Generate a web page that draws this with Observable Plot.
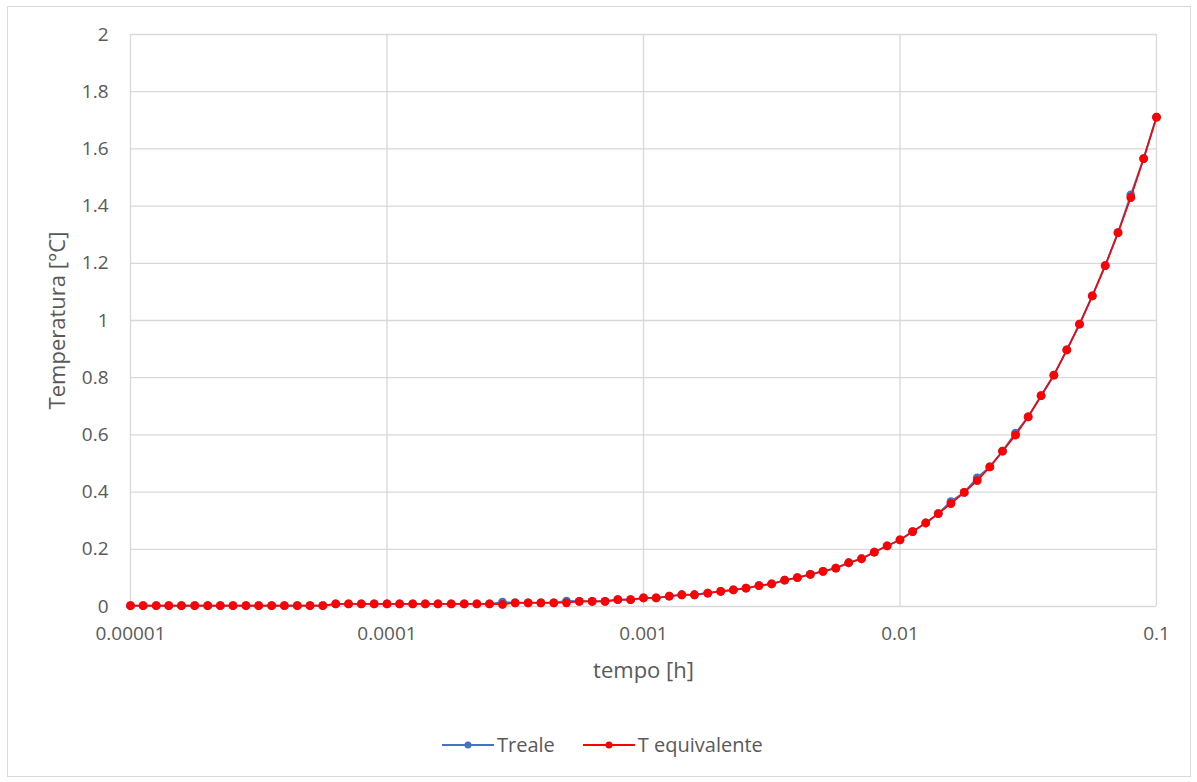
<!DOCTYPE html>
<html>
<head>
<meta charset="utf-8">
<script src="https://cdn.jsdelivr.net/npm/d3@7"></script>
<script src="https://cdn.jsdelivr.net/npm/@observablehq/plot@0.6"></script>
<style>
  body { margin: 0; background: #fff; font-family: "Open Sans", sans-serif; }
  #frame { position: absolute; left: 7px; top: 6px; width: 1184px; height: 771px; border: 1px solid #d9d9d9; box-sizing: border-box; }
  #chart { position: absolute; left: 0; top: 0; }
  #legend { position: absolute; left: 442px; top: 731px; display: flex; align-items: center; font-size: 20px; color: #595959; white-space: nowrap; }
  #legend .item { display: flex; align-items: center; }
  #legend svg { display: block; margin-right: 3px; }
</style>
</head>
<body>
<div id="frame"></div>
<div id="chart"></div>
<div id="legend"></div>
<script>
// time steps [h], 20 per decade
const tempo = [
  1.00e-5, 1.12e-5, 1.26e-5, 1.41e-5, 1.58e-5, 1.78e-5, 2.00e-5, 2.24e-5, 2.51e-5, 2.82e-5,
  3.16e-5, 3.55e-5, 3.98e-5, 4.47e-5, 5.01e-5, 5.62e-5, 6.31e-5, 7.08e-5, 7.94e-5, 8.91e-5,
  1.00e-4, 1.12e-4, 1.26e-4, 1.41e-4, 1.58e-4, 1.78e-4, 2.00e-4, 2.24e-4, 2.51e-4, 2.82e-4,
  3.16e-4, 3.55e-4, 3.98e-4, 4.47e-4, 5.01e-4, 5.62e-4, 6.31e-4, 7.08e-4, 7.94e-4, 8.91e-4,
  1.00e-3, 1.12e-3, 1.26e-3, 1.41e-3, 1.58e-3, 1.78e-3, 2.00e-3, 2.24e-3, 2.51e-3, 2.82e-3,
  3.16e-3, 3.55e-3, 3.98e-3, 4.47e-3, 5.01e-3, 5.62e-3, 6.31e-3, 7.08e-3, 7.94e-3, 8.91e-3,
  1.00e-2, 1.12e-2, 1.26e-2, 1.41e-2, 1.58e-2, 1.78e-2, 2.00e-2, 2.24e-2, 2.51e-2, 2.82e-2,
  3.16e-2, 3.55e-2, 3.98e-2, 4.47e-2, 5.01e-2, 5.62e-2, 6.31e-2, 7.08e-2, 7.94e-2, 8.91e-2,
  1.00e-1
];

// equivalent temperature [°C]
const tEquivalente = [
  0.003, 0.003, 0.003, 0.003, 0.003, 0.003, 0.003, 0.003, 0.003, 0.003,
  0.003, 0.003, 0.003, 0.003, 0.003, 0.003, 0.009, 0.009, 0.009, 0.009,
  0.009, 0.009, 0.009, 0.009, 0.009, 0.009, 0.009, 0.009, 0.009, 0.007,
  0.013, 0.013, 0.013, 0.013, 0.013, 0.018, 0.018, 0.018, 0.024, 0.024,
  0.030, 0.030, 0.036, 0.041, 0.041, 0.047, 0.053, 0.058, 0.064, 0.073,
  0.079, 0.092, 0.101, 0.112, 0.123, 0.134, 0.153, 0.167, 0.190, 0.212,
  0.233, 0.262, 0.292, 0.325, 0.360, 0.399, 0.440, 0.488, 0.543, 0.599,
  0.663, 0.737, 0.809, 0.897, 0.987, 1.086, 1.192, 1.307, 1.430, 1.566,
  1.711
];

// measured temperature [°C]
const treale = [
  0.003, 0.003, 0.003, 0.003, 0.003, 0.003, 0.003, 0.003, 0.003, 0.003,
  0.003, 0.003, 0.003, 0.003, 0.003, 0.003, 0.009, 0.009, 0.009, 0.009,
  0.009, 0.009, 0.009, 0.009, 0.009, 0.009, 0.009, 0.009, 0.009, 0.015,
  0.013, 0.013, 0.013, 0.013, 0.019, 0.018, 0.018, 0.018, 0.024, 0.024,
  0.030, 0.030, 0.036, 0.041, 0.041, 0.047, 0.053, 0.058, 0.064, 0.073,
  0.079, 0.092, 0.101, 0.112, 0.123, 0.134, 0.153, 0.167, 0.190, 0.212,
  0.233, 0.262, 0.292, 0.325, 0.367, 0.399, 0.450, 0.488, 0.543, 0.606,
  0.663, 0.737, 0.809, 0.897, 0.987, 1.086, 1.192, 1.307, 1.439, 1.566,
  1.711
];

const xTicks = [0.00001, 0.0001, 0.001, 0.01, 0.1];
const yTicks = [0, 0.2, 0.4, 0.6, 0.8, 1, 1.2, 1.4, 1.6, 1.8, 2];
const seriesNames = ["Treale", "T equivalente"];
const seriesColors = ["#4472C4", "#FF0000"];

const rows = tempo.map((t, i) => ({ tempo: t, treale: treale[i], tEq: tEquivalente[i] }));

const gridColor = "#d9d9d9";
const textColor = "#595959";

const chart = Plot.plot({
  width: 1197,
  height: 700,
  marginLeft: 130,
  marginRight: 41,
  marginTop: 34,
  marginBottom: 94,
  x: { type: "log", domain: [1e-5, 0.1] },
  y: { domain: [0, 2] },
  style: { fontFamily: "Open Sans, sans-serif", fontSize: "19px", color: textColor, background: "transparent" },
  marks: [
    Plot.gridX(xTicks, { stroke: gridColor, strokeOpacity: 1, strokeWidth: 1.3 }),
    Plot.gridY(yTicks, { stroke: gridColor, strokeOpacity: 1, strokeWidth: 1.3 }),
    Plot.axisX(xTicks, { tickSize: 0, tickPadding: 20, tickFormat: d => String(d), label: null, fill: textColor }),
    Plot.axisY(yTicks, { tickSize: 0, tickPadding: 22, tickFormat: d => String(d), label: null, fill: textColor }),
    Plot.text(["tempo [h]"], { frameAnchor: "bottom", dy: 71, fontSize: 22, fill: textColor }),
    Plot.text(["Temperatura [°C]"], { frameAnchor: "left", textAnchor: "middle", dx: -73, rotate: -90, fontSize: 22, fill: textColor }),
    Plot.line(rows, { x: "tempo", y: "treale", stroke: seriesColors[0], strokeWidth: 2 }),
    Plot.dot(rows, { x: "tempo", y: "treale", r: 4.4, fill: seriesColors[0] }),
    Plot.line(rows, { x: "tempo", y: "tEq", stroke: seriesColors[1], strokeWidth: 1.6 }),
    Plot.dot(rows, { x: "tempo", y: "tEq", r: 4.4, fill: seriesColors[1] })
  ]
});
document.getElementById("chart").append(chart);

// legend: line with marker for each series
const legend = d3.select("#legend");
seriesNames.forEach((name, i) => {
  const item = legend.append("div").attr("class", "item").style("margin-right", i === 0 ? "28px" : "0");
  const sw = item.append("svg").attr("width", 52).attr("height", 12);
  sw.append("line").attr("x1", 0).attr("x2", 52).attr("y1", 6).attr("y2", 6)
    .attr("stroke", seriesColors[i]).attr("stroke-width", 2);
  sw.append("circle").attr("cx", 26).attr("cy", 6).attr("r", 3.5).attr("fill", seriesColors[i]);
  item.append("span").text(name);
});
</script>
</body>
</html>
